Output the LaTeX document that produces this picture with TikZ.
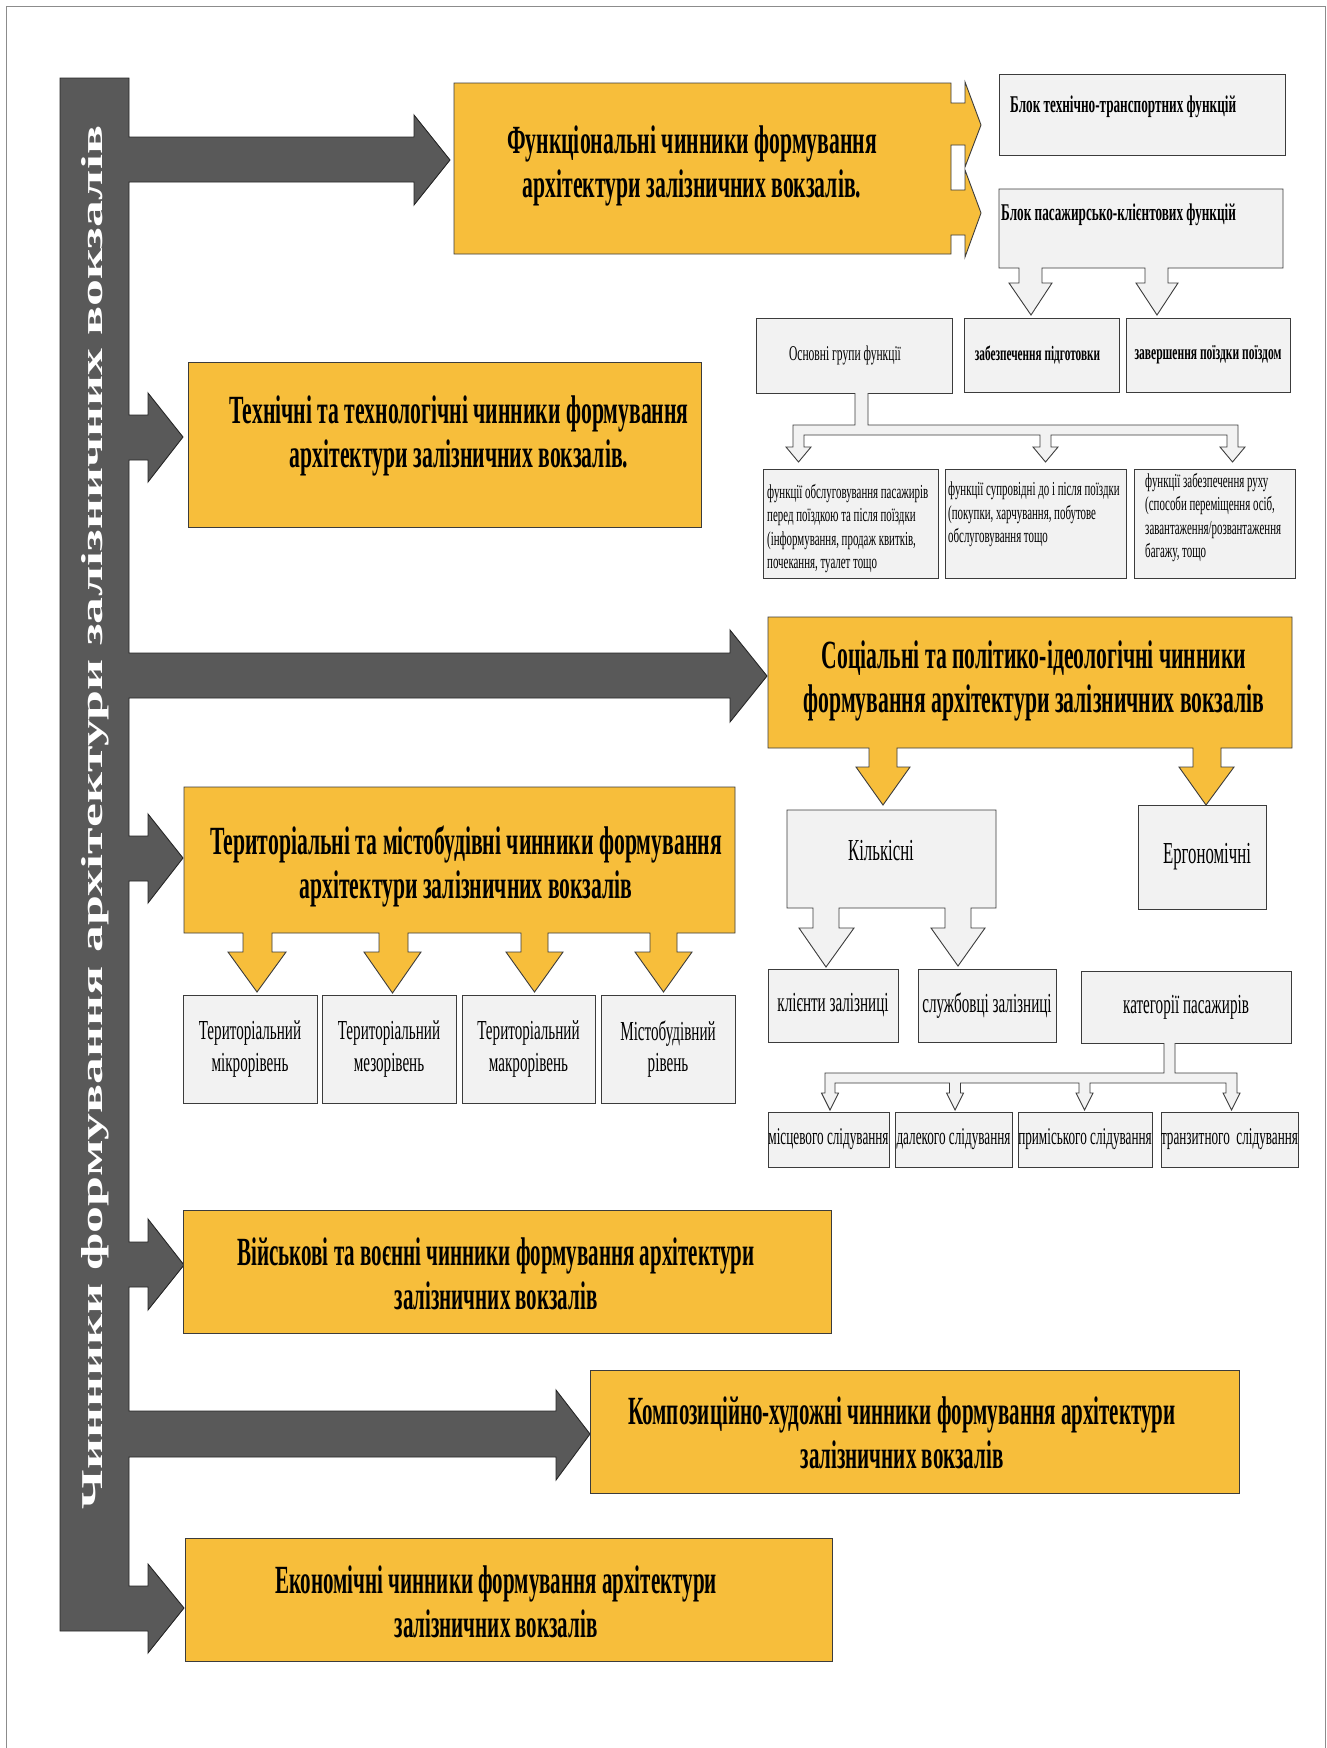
\documentclass[tikz,border=0pt]{standalone}
\usepackage{fontspec}
\usepackage{graphicx}
\setmainfont{Liberation Serif}
\newfontfamily\cnd[FakeStretch=0.55]{Liberation Serif}
\newfontfamily\cndt[FakeStretch=0.542]{Liberation Serif}
\newfontfamily\cndu[FakeStretch=0.525]{Liberation Serif}
\definecolor{yel}{RGB}{247,190,59}
\definecolor{dgr}{RGB}{89,89,89}
\definecolor{lgr}{RGB}{242,242,242}
\definecolor{edge}{RGB}{60,60,60}
\tikzset{
  gbox/.style={fill=lgr, draw=edge, line width=0.9pt, inner sep=0pt, outer sep=0pt, anchor=north west, align=center},
  ybox/.style={fill=yel, draw=edge, line width=0.9pt, inner sep=0pt, outer sep=0pt, anchor=north west},
  yshape/.style={fill=yel, draw=edge, line width=0.9pt, line join=miter},
  gshape/.style={fill=lgr, draw=edge, line width=0.9pt, line join=miter},
  bshape/.style={fill=dgr, draw=black!85, line width=0.9pt, line join=miter},
  ttl/.style={font=\cndt\bfseries\fontsize{40}{44}\selectfont, align=center, inner sep=0pt},
  ttlu/.style={font=\cndu\bfseries\fontsize{40}{44}\selectfont, align=center, inner sep=0pt},
  lbl/.style={font=\cnd\bfseries\fontsize{24}{28}\selectfont, inner sep=0pt, anchor=base west},
  sml/.style={font=\cnd\fontsize{19.8}{23.5}\selectfont, inner sep=0pt, align=left, anchor=north west},
  mid/.style={font=\cnd\fontsize{30.5}{34}\selectfont},
  cat/.style={font=\cnd\fontsize{27.5}{30}\selectfont},
  bot/.style={font=\cnd\fontsize{24}{26}\selectfont},
  ter/.style={font=\cnd\fontsize{27.5}{31.5}\selectfont},
}
\begin{document}
\begin{tikzpicture}[x=1pt,y=-1pt]
\useasboundingbox (0,0) rectangle (1327,1748);
\fill[white] (0,0) rectangle (1327,1748);
\draw[black!45, line width=1pt] (6,1748) -- (6,6) -- (1325,6) -- (1325,1748);

% main dark bar with arrows
\draw[bshape] (60,78) -- (129,78) -- (129,137) -- (414,137) -- (414,115) -- (450,160) -- (414,205) -- (414,182) -- (129,182)
  -- (129,415) -- (148,415) -- (148,393) -- (183,437) -- (148,482) -- (148,460) -- (129,460)
  -- (129,653) -- (730,653) -- (730,630) -- (767,676) -- (730,722) -- (730,698) -- (129,698)
  -- (129,836) -- (148,836) -- (148,814) -- (183,858) -- (148,903) -- (148,881) -- (129,881)
  -- (129,1242) -- (148,1242) -- (148,1219) -- (184,1265) -- (148,1310) -- (148,1287) -- (129,1287)
  -- (129,1411) -- (556,1411) -- (556,1390) -- (590,1434) -- (556,1480) -- (556,1457) -- (129,1457)
  -- (129,1586) -- (148,1586) -- (148,1564) -- (184,1608) -- (148,1653) -- (148,1631) -- (60,1631) -- cycle;
\node[rotate=90, anchor=base, inner sep=0pt, text=white] (vt) at (102,817.5)
  {\resizebox{1383pt}{21pt}{\bfseries Чинники формування архітектури залізничних вокзалів}};

% functional block
\draw[yshape] (454,83) -- (951,83) -- (951,103) -- (965,103) -- (965,82) -- (981,125) -- (965,167) -- (965,145) -- (951,145)
  -- (951,190) -- (965,190) -- (965,170) -- (981,213) -- (965,257) -- (965,235) -- (951,235) -- (951,254) -- (454,254) -- cycle;
\node[ttl] (tFunc) at (692,166) {Функціональні чинники формування\\архітектури залізничних вокзалів.};

\node[gbox, minimum width=286pt, minimum height=81pt] (blok1) at (999,74) {};
\node[lbl] (tBl1) at (1010,112) {Блок технічно-транспортних функцій};
\draw[gshape] (999,189) -- (1283,189) -- (1283,268) -- (1168,268) -- (1168,283) -- (1178,283) -- (1157,315) -- (1136,283) -- (1145,283) -- (1145,268)
  -- (1042,268) -- (1042,283) -- (1052,283) -- (1031,315) -- (1009,283) -- (1019,283) -- (1019,268) -- (999,268) -- cycle;
\node[lbl] (tBl2) at (1001,220) {Блок пасажирсько-клієнтових функцій};

\node[gbox, minimum width=196pt, minimum height=75pt, font=\cnd\fontsize{21}{25}\selectfont] (osn) at (756,318) {\hspace*{-18pt}Основні групи функції};
\node[gbox, minimum width=155pt, minimum height=74pt, font=\cnd\bfseries\fontsize{20.5}{24}\selectfont] (zab) at (964,318) {забезпечення підготовки\hspace*{8pt}};
\node[gbox, minimum width=164pt, minimum height=74pt, font=\cnd\bfseries\fontsize{21}{24}\selectfont] (zav) at (1126,318) {завершення поїздки поїздом};

\draw[gshape] (855,393) -- (855,425) -- (793,425) -- (793,447) -- (786,447) -- (798.5,462) -- (811,447) -- (804,447) -- (804,435)
  -- (1040,435) -- (1040,447) -- (1033,447) -- (1045.5,462) -- (1058,447) -- (1051,447) -- (1051,435)
  -- (1227,435) -- (1227,447) -- (1220,447) -- (1232.5,462) -- (1245,447) -- (1238,447) -- (1238,425) -- (868,425) -- (868,393);

\node[gbox, minimum width=175pt, minimum height=109pt] (f1) at (763,469) {};
\node[gbox, minimum width=181pt, minimum height=109pt] (f2) at (945,469) {};
\node[gbox, minimum width=161pt, minimum height=109pt] (f3) at (1134,469) {};
\node[sml] (tf1) at (767,484) {функції обслуговування пасажирів\\перед поїздкою та після поїздки\\(інформування, продаж квитків,\\почекання, туалет тощо};
\node[sml] (tf2) at (948,482) {функції супровідні до і після поїздки\\(покупки, харчування, побутове\\обслуговування тощо};
\node[sml] (tf3) at (1145,473) {функції забезпечення руху\\(способи переміщення осіб,\\завантаження/розвантаження\\багажу, тощо};

% technical
\node[ybox, minimum width=513pt, minimum height=165pt] (tech) at (188,362) {};
\node[ttl] (tTech) at (459,436) {Технічні та технологічні чинники формування\\архітектури залізничних вокзалів.};

% social
\draw[yshape] (768,617) -- (1292,617) -- (1292,748) -- (1221,748) -- (1221,767) -- (1234,767) -- (1206,805) -- (1179,767) -- (1193,767) -- (1193,748)
  -- (897,748) -- (897,767) -- (910,767) -- (883,805) -- (856,767) -- (869,767) -- (869,748) -- (768,748) -- cycle;
\node[ttl] (tSoc) at (1034,681) {Соціальні та політико-ідеологічні чинники\\формування архітектури залізничних вокзалів};

\draw[gshape] (787,810) -- (996,810) -- (996,908) -- (971,908) -- (971,928) -- (985,928) -- (958,966) -- (931,928) -- (945,928) -- (945,908)
  -- (839,908) -- (839,928) -- (854,928) -- (826,967) -- (799,928) -- (813,928) -- (813,908) -- (787,908) -- cycle;
\node[mid, inner sep=0pt] (tKil) at (881,851) {Кількісні};
\node[gbox, mid, minimum width=128pt, minimum height=104pt] (erg) at (1138,805) {\hspace*{10pt}Ергономічні};

\node[gbox, cat, minimum width=130pt, minimum height=73pt] (kl) at (768,969) {клієнти залізниці};
\node[gbox, cat, minimum width=138pt, minimum height=73pt] (sl) at (918,969) {службовці залізниці};
\node[gbox, cat, minimum width=210pt, minimum height=72pt] (kat) at (1081,971) {категорії пасажирів};

\draw[gshape] (1164,1043) -- (1164,1073) -- (825,1073) -- (825,1093) -- (821.5,1093) -- (830,1110) -- (838.5,1093) -- (835,1093) -- (835,1083)
  -- (949.5,1083) -- (949.5,1093) -- (946.5,1093) -- (955,1110) -- (963.5,1093) -- (960.5,1093) -- (960.5,1083)
  -- (1079,1083) -- (1079,1093) -- (1076,1093) -- (1084.5,1110) -- (1093,1093) -- (1090,1093) -- (1090,1083)
  -- (1226,1083) -- (1226,1093) -- (1223,1093) -- (1231.5,1110) -- (1240,1093) -- (1237,1093) -- (1237,1073) -- (1175,1073) -- (1175,1043);

\node[gbox, bot, minimum width=121pt, minimum height=55pt] (s1) at (768,1112) {місцевого слідування};
\node[gbox, bot, minimum width=117pt, minimum height=55pt] (s2) at (895,1112) {далекого слідування};
\node[gbox, bot, minimum width=134pt, minimum height=55pt] (s3) at (1018,1112) {приміського слідування};
\node[gbox, bot, minimum width=135pt, minimum height=55pt] (s4) at (1161,1112) {транзитного\ \ слідування};

% territorial
\draw[yshape] (184,787) -- (735,787) -- (735,933) -- (677,933) -- (677,952) -- (692,952) -- (663.5,992) -- (635,952) -- (650,952) -- (650,933)
  -- (548,933) -- (548,952) -- (563,952) -- (534.5,992) -- (506,952) -- (521,952) -- (521,933)
  -- (408,933) -- (408,952) -- (421,952) -- (392.5,993) -- (364,952) -- (379,952) -- (379,933)
  -- (272,933) -- (272,952) -- (286,952) -- (257,992) -- (228,952) -- (243,952) -- (243,933) -- (184,933) -- cycle;
\node[ttl] (tTer) at (466,866) {Територіальні та містобудівні чинники формування\\архітектури залізничних вокзалів};

\node[gbox, ter, minimum width=134pt, minimum height=108pt] (t1) at (183,995) {Територіальний\\мікрорівень};
\node[gbox, ter, minimum width=134pt, minimum height=108pt] (t2) at (322,995) {Територіальний\\мезорівень};
\node[gbox, ter, minimum width=133pt, minimum height=108pt] (t3) at (462,995) {Територіальний\\макрорівень};
\node[gbox, ter, minimum width=134pt, minimum height=108pt] (t4) at (601,995) {Містобудівний\\рівень};

% military, compositional, economic
\node[ybox, minimum width=648pt, minimum height=123pt] (mil) at (183,1210) {};
\node[ttlu] (tMil) at (496,1274) {Військові та воєнні чинники формування архітектури\\залізничних вокзалів};
\node[ybox, minimum width=649pt, minimum height=123pt] (comp) at (590,1370) {};
\node[ttlu] (tComp) at (902,1433) {Композиційно-художні чинники формування архітектури\\залізничних вокзалів};
\node[ybox, minimum width=647pt, minimum height=123pt] (eco) at (185,1538) {};
\node[ttlu] (tEco) at (496,1602) {Економічні чинники формування архітектури\\залізничних вокзалів};
\end{tikzpicture}
\end{document}
